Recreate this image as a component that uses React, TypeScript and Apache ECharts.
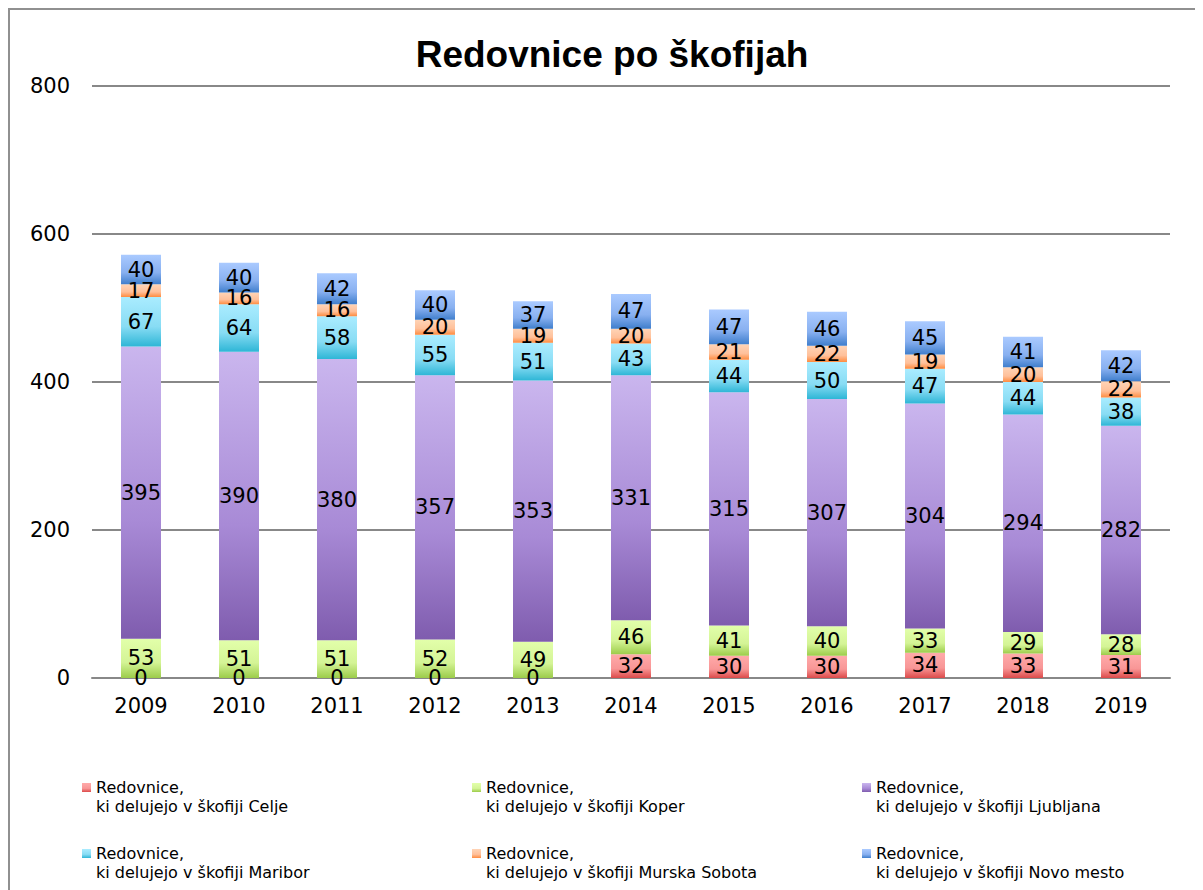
import React, { useEffect, useRef } from "react";
import * as echarts from "echarts";

const years = ["2009", "2010", "2011", "2012", "2013", "2014", "2015", "2016", "2017", "2018", "2019"];
const seriesNames = [
  "Redovnice, ki delujejo v škofiji Celje",
  "Redovnice, ki delujejo v škofiji Koper",
  "Redovnice, ki delujejo v škofiji Ljubljana",
  "Redovnice, ki delujejo v škofiji Maribor",
  "Redovnice, ki delujejo v škofiji Murska Sobota",
  "Redovnice, ki delujejo v škofiji Novo mesto",
];
const celje = [0, 0, 0, 0, 0, 32, 30, 30, 34, 33, 31];
const koper = [53, 51, 51, 52, 49, 46, 41, 40, 33, 29, 28];
const ljubljana = [395, 390, 380, 357, 353, 331, 315, 307, 304, 294, 282];
const maribor = [67, 64, 58, 55, 51, 43, 44, 50, 47, 44, 38];
const murskaSobota = [17, 16, 16, 20, 19, 20, 21, 22, 19, 20, 22];
const novoMesto = [40, 40, 42, 40, 37, 47, 47, 46, 45, 41, 42];
const yTicks = [0, 200, 400, 600, 800];

const allData = [celje, koper, ljubljana, maribor, murskaSobota, novoMesto];
const gradColors = [
  ["#ffaaaa", "#f89696", "#dc4a4a"],
  ["#e2ffaa", "#d4f496", "#9ccc4a"],
  ["#cab6ee", "#a88ad6", "#7f5cae"],
  ["#aaecff", "#88dcf4", "#2eb6d6"],
  ["#ffd4b6", "#ffc09a", "#ff8c40"],
  ["#aacaff", "#88b0f0", "#3f7ecc"],
];

const grad = (c: string[], scale = 1) =>
  new echarts.graphic.LinearGradient(0, 0, 0, 1, [
    { offset: 0, color: c[0] },
    { offset: 0.6 * scale, color: c[1] },
    { offset: 1 * scale, color: c[2] },
    ...(scale < 1 ? [{ offset: 1, color: c[2] }] : []),
  ]);

const FONT = "DejaVu Sans, Verdana, sans-serif";

export default function App() {
  const ref = useRef<HTMLDivElement>(null);
  useEffect(() => {
    if (!ref.current) return;
    const chart = echarts.init(ref.current, null, { renderer: "svg" });
    const legendPos = [
      [72, 0],
      [462, 0],
      [852, 0],
      [72, 1],
      [462, 1],
      [852, 1],
    ];
    const option: any = {
      animation: false,
      backgroundColor: "#ffffff",
      title: {
        text: "Redovnice po škofijah",
        left: 597,
        textAlign: "center",
        top: 21,
        textStyle: {
          fontFamily: "Liberation Sans, Arial, sans-serif",
          fontWeight: "bold",
          fontSize: 37,
          color: "#000",
        },
      },
      legend: seriesNames.map((n, i) => ({
        data: [{ name: n, itemStyle: { color: grad(gradColors[i], 9 / 28) } }],
        left: legendPos[i][0],
        top: 768 + legendPos[i][1] * 66,
        padding: 0,
        itemWidth: 9,
        itemHeight: 28,
        itemGap: 0,
        icon: "path://M0,0h9v9h-9zM4,27.9h0.1v0.1h-0.1z",
        selectedMode: false,
        formatter: (name: string) => name.replace(", ", ",\n"),
        textStyle: {
          fontFamily: FONT,
          fontSize: 16,
          lineHeight: 19,
          color: "#000",
        },
      })),
      grid: { left: 82, right: 33, top: 76, bottom: 212, containLabel: false },
      xAxis: {
        type: "category",
        data: years,
        axisLine: { show: true, lineStyle: { color: "#888", width: 2 } },
        axisTick: { show: false },
        axisLabel: {
          color: "#000",
          fontSize: 21,
          fontFamily: FONT,
          margin: 17,
        },
      },
      yAxis: {
        type: "value",
        min: yTicks[0],
        max: yTicks[yTicks.length - 1],
        interval: 200,
        axisLine: { show: false },
        axisTick: { show: false },
        splitLine: { lineStyle: { color: "#888", width: 2 } },
        axisLabel: {
          color: "#000",
          fontSize: 21,
          fontFamily: FONT,
          margin: 22,
        },
      },
      series: seriesNames.map((n, i) => ({
        name: n,
        type: "bar",
        stack: "total",
        barWidth: 40,
        data: allData[i],
        itemStyle: { color: grad(gradColors[i]) },
        label: {
          show: true,
          position: "inside",
          color: "#000",
          fontSize: 21,
          fontFamily: FONT,
        },
      })),
    };
    chart.setOption(option);
    return () => chart.dispose();
  }, []);
  return (
    <div
      ref={ref}
      style={{
        width: 1195,
        height: 882,
        boxSizing: "border-box",
        borderLeft: "2px solid #909090",
        borderTop: "2px solid #909090",
      }}
    />
  );
}
